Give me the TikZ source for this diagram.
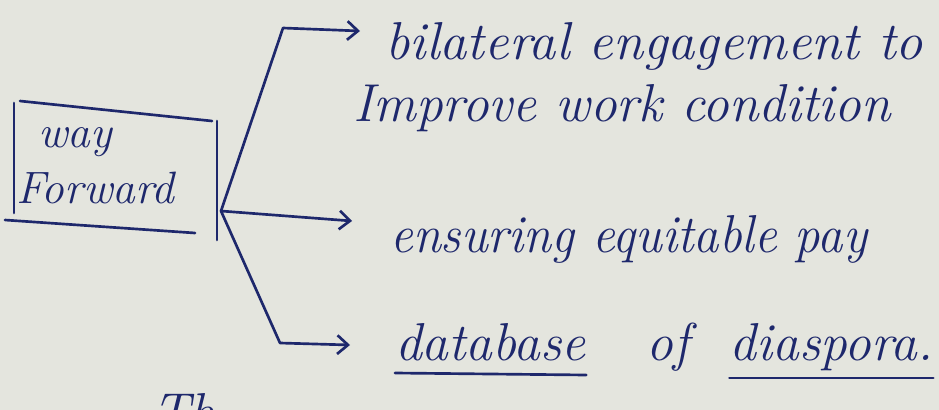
\documentclass[tikz,border=0pt]{standalone}
\usepackage{fontspec}
\usetikzlibrary{arrows.meta,calc}
\definecolor{paper}{RGB}{228,229,222}
\definecolor{ink}{RGB}{30,40,108}
\tikzset{
  hand/.style={text=ink, font=\fontsize{40}{42}\selectfont\itshape, inner sep=0pt, anchor=base west},
  boxtext/.style={hand, font=\fontsize{34}{36}\selectfont\itshape},
  pen/.style={draw=ink, line width=2pt, line cap=round, line join=round},
  arr/.style={pen, -{Straight Barb[length=8pt,width=14pt,line width=2pt]}},
}
\begin{document}
\begin{tikzpicture}[x=0.75pt,y=-0.75pt]
\fill[paper] (0,0) rectangle (939,410);
\useasboundingbox (0,0) rectangle (939,410);

% the boxed heading
\node[boxtext] (way) at (38,147) {way};
\node[boxtext] (fwd) at (16,203) {Forward};
\draw[pen] (20,101) -- (212,121);
\draw[pen] (14,103) -- (14,213);
\draw[pen] (217,121) -- (217,240);
\draw[pen] (5,220) -- (195,233);

% branch points
\coordinate (j) at (221,211);
\coordinate (c1) at (283,28);
\coordinate (t1) at (360,31);
\coordinate (t2) at (352,221);
\coordinate (c3) at (280,343);
\coordinate (t3) at (350,345);

% points
\node[hand] (l1) at (385,60) {\scalebox{1.02}[1]{bilateral engagement to}};
\node[hand] (l2) at (353,122) {Improve work condition};
\node[hand] (l3) at (390,252) {\scalebox{0.95}[1]{ensuring equitable pay}};
\node[hand] (db) at (395,360) {database};
\node[hand, anchor=base west] (of) at ($(db.base east)+(60,0)$) {of};
\node[hand, anchor=base west] (dia) at ($(of.base east)+(40,0)$) {diaspora.};
\draw[pen] ($(db.base west)+(0,13)$) -- ($(db.base east)+(0,15)$);
\draw[pen] ($(dia.base west)+(0,18)$) -- ($(dia.base east)+(0,18)$);

% next line, cut off by the lower edge
\node[hand] (next) at (152,430) {Th};

% connectors
\draw[arr] (j) -- (c1) -- (t1);
\draw[arr] (j) -- (t2);
\draw[arr] (j) -- (c3) -- (t3);
\end{tikzpicture}
\end{document}
